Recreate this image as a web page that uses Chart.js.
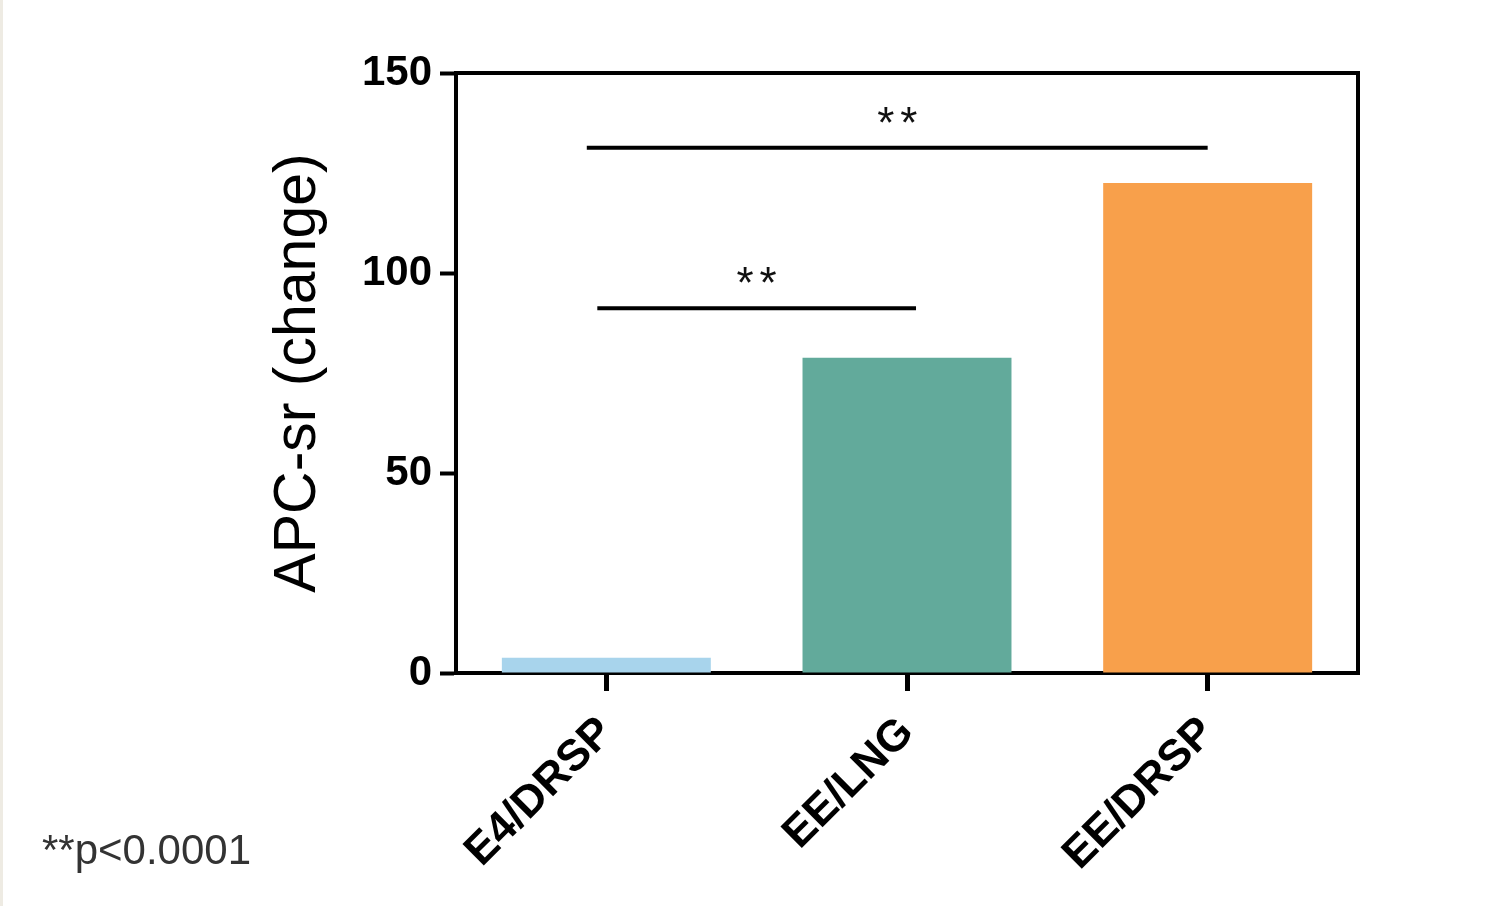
<!DOCTYPE html>
<html>
<head>
<meta charset="utf-8">
<script src="https://cdn.jsdelivr.net/npm/chart.js@4/dist/chart.umd.min.js"></script>
<style>
  html, body { margin: 0; padding: 0; background: #ffffff; }
  body { width: 1489px; height: 906px; position: relative; overflow: hidden; }
  #edge { position: absolute; left: 0; top: 0; width: 3px; height: 906px; background: #eeebe3; }
  #c { position: absolute; left: 0; top: 0; }
  #note { position: absolute; left: 42px; top: 826px; font-family: "Liberation Sans", Arial, sans-serif; font-size: 42px; color: #333; white-space: nowrap; }
</style>
</head>
<body>
<div id="edge"></div>
<canvas id="c" width="1489" height="906"></canvas>
<div id="note">**p&lt;0.0001</div>
<script>
// ---- data ----
const categories = ["E4/DRSP", "EE/LNG", "EE/DRSP"];
const values = [3.8, 78.8, 122.5];
const barColors = ["#a8d4ec", "#62aa9b", "#f8a04b"];
const yTicks = [0, 50, 100, 150];
const yTitle = "APC-sr (change)";
// significance brackets (category index positions, value level)
const sigFrom = [-0.03, -0.065];
const sigTo = [1.03, 2.0];
const sigLevel = [91.2, 131.3];
const sigLabel = ["**", "**"];

const frameAndSig = {
  id: 'frameAndSig',
  afterDraw(chart) {
    const {ctx, chartArea: a, scales: {x, y}} = chart;
    ctx.save();
    ctx.strokeStyle = '#000';
    ctx.lineWidth = 4;
    ctx.beginPath();
    ctx.moveTo(a.left - 2, a.top);
    ctx.lineTo(a.right, a.top);
    ctx.lineTo(a.right, a.bottom + 2);
    ctx.stroke();
    // significance lines
    ctx.lineWidth = 4;
    ctx.font = '44px "Liberation Sans", Arial, sans-serif';
    ctx.fillStyle = '#111';
    ctx.textAlign = 'center';
    ctx.textBaseline = 'alphabetic';
    for (let i = 0; i < sigFrom.length; i++) {
      const x1 = x.getPixelForValue(sigFrom[i]);
      const x2 = x.getPixelForValue(sigTo[i]);
      const yy = y.getPixelForValue(sigLevel[i]);
      ctx.beginPath();
      ctx.moveTo(x1, yy);
      ctx.lineTo(x2, yy);
      ctx.stroke();
      const cx = (x1 + x2) / 2;
      const stars = sigLabel[i].split('');
      const gap = 23;
      stars.forEach((s, k) => {
        const sx = cx + (k - (stars.length - 1) / 2) * gap;
        ctx.fillText(s, sx, yy - 10);
      });
    }
    ctx.restore();
  }
};

new Chart(document.getElementById('c'), {
  type: 'bar',
  data: {
    labels: categories,
    datasets: [{
      data: values,
      backgroundColor: barColors,
      borderWidth: 0,
      categoryPercentage: 1.0,
      barPercentage: 0.695
    }]
  },
  options: {
    responsive: false,
    animation: false,
    devicePixelRatio: 1,
    layout: { padding: { left: 0, top: 73, right: 131, bottom: 0 } },
    plugins: { legend: { display: false }, tooltip: { enabled: false } },
    scales: {
      x: {
        offset: true,
        grid: { display: true, offset: false, drawOnChartArea: false, drawTicks: true, tickLength: 18, tickWidth: 5, tickColor: '#000' },
        border: { display: true, color: '#000', width: 4 },
        ticks: {
          color: '#000',
          font: { family: '"Liberation Sans", Arial, sans-serif', size: 44, weight: 'bold' },
          minRotation: 45, maxRotation: 45, padding: 16
        },
        afterFit(scale) { scale.height = 233; }
      },
      y: {
        min: 0, max: 150,
        afterBuildTicks(scale) { scale.ticks = yTicks.map(v => ({ value: v })); },
        grid: { display: true, drawOnChartArea: false, drawTicks: true, tickLength: 16, tickWidth: 4, tickColor: '#000' },
        border: { display: true, color: '#000', width: 4 },
        ticks: {
          color: '#000',
          padding: 8,
          font: { family: '"Liberation Sans", Arial, sans-serif', size: 42, weight: 'bold' }
        },
        title: {
          display: true,
          text: yTitle,
          color: '#000',
          font: { family: '"Liberation Sans", Arial, sans-serif', size: 59, weight: 'normal' },
          padding: { top: 263, bottom: 0 }
        },
        afterFit(scale) { scale.width = 456; }
      }
    }
  },
  plugins: [frameAndSig]
});
</script>
</body>
</html>
